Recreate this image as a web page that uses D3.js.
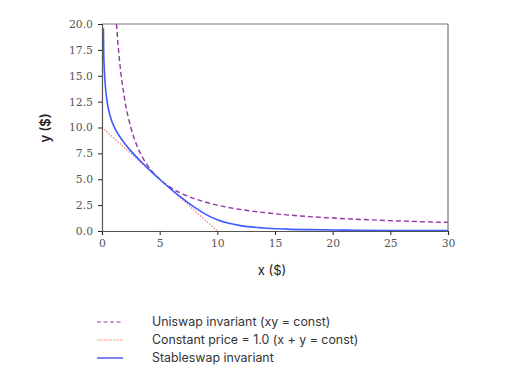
<!DOCTYPE html>
<html><head><meta charset="utf-8">
<script src="https://cdn.jsdelivr.net/npm/d3@7"></script>
<style>body{margin:0;background:#fff;} svg{display:block;}</style>
</head><body>
<svg id="c" width="514" height="380"></svg>
<script>
const xTicks = [0, 5, 10, 15, 20, 25, 30];
const yTicks = [0, 2.5, 5, 7.5, 10, 12.5, 15, 17.5, 20];

const uniX = [1.25, 1.5, 1.75, 2, 2.5, 3, 3.5, 4, 4.5, 5, 6, 7, 8, 9, 10, 12, 14, 16, 18, 20, 22, 25, 28, 30];
const uniY = [20, 16.67, 14.29, 12.5, 10, 8.33, 7.14, 6.25, 5.56, 5, 4.17, 3.57, 3.13, 2.78, 2.5, 2.08, 1.79, 1.56, 1.39, 1.25, 1.14, 1.0, 0.89, 0.83];

const constX = [0, 10];
const constY = [10, 0];

const stableX = [0.12, 0.15, 0.2, 0.3, 0.4, 0.5, 0.6, 0.8, 1, 1.25, 1.5, 2, 2.5, 3, 3.5, 4, 5, 6, 7, 8, 9, 10, 11, 12, 14, 16, 18, 20, 22, 25, 28, 30];
const stableY = [19.6, 17.13, 15.63, 13.87, 12.83, 12.11, 11.57, 10.78, 10.21, 9.64, 9.18, 8.41, 7.74, 7.14, 6.57, 6.03, 5.0, 4.03, 3.12, 2.30, 1.61, 1.09, 0.74, 0.52, 0.29, 0.185, 0.129, 0.095, 0.073, 0.052, 0.040, 0.033];

const legendLabels = ["Uniswap invariant (xy = const)", "Constant price = 1.0 (x + y = const)", "Stableswap invariant"];

const svg = d3.select("#c");
const L = 102, R = 448, T = 24, B = 231;
const x = d3.scaleLinear().domain([0, 30]).range([L, R]);
const y = d3.scaleLinear().domain([0, 20]).range([B, T]);

const serif = "'DejaVu Serif', serif";
const sans = "Inter, 'Noto Sans', sans-serif";

svg.append("line").attr("x1", L).attr("x2", R).attr("y1", T).attr("y2", T).attr("stroke", "#777").attr("stroke-width", 1.2);
svg.append("line").attr("x1", R).attr("x2", R).attr("y1", T).attr("y2", B).attr("stroke", "#777").attr("stroke-width", 1.2);

svg.append("defs").append("clipPath").attr("id", "pc")
  .append("rect").attr("x", L).attr("y", T).attr("width", R - L).attr("height", B - T);

const g = svg.append("g").attr("clip-path", "url(#pc)");
const line = (xs, ys, curve) => d3.line().x((d, i) => x(xs[i])).y((d, i) => y(ys[i])).curve(curve)(xs);

g.append("path").attr("d", line(constX, constY, d3.curveLinear)).attr("fill", "none")
  .attr("stroke", "#ff5a4e").attr("stroke-width", 1.2).attr("stroke-dasharray", "1.2,1.8");
g.append("path").attr("d", line(uniX, uniY, d3.curveMonotoneX)).attr("fill", "none")
  .attr("stroke", "#8d3a9c").attr("stroke-width", 1.4).attr("stroke-dasharray", "5,3");
g.append("path").attr("d", line(stableX, stableY, d3.curveMonotoneX)).attr("fill", "none")
  .attr("stroke", "#3d5cff").attr("stroke-width", 1.6);

const xa = svg.append("g").attr("transform", `translate(0,${B})`)
  .call(d3.axisBottom(x).tickValues(xTicks).tickFormat(d3.format("d")).tickSize(4).tickPadding(4));
const ya = svg.append("g").attr("transform", `translate(${L},0)`)
  .call(d3.axisLeft(y).tickValues(yTicks).tickFormat(d3.format(".1f")).tickSize(4).tickPadding(5));
[xa, ya].forEach(a => {
  a.select(".domain").attr("stroke", "#555").attr("stroke-width", 1.2);
  a.selectAll(".tick line").attr("stroke", "#222");
  a.selectAll("text").attr("font-family", serif).attr("font-size", 10.8).attr("fill", "#555");
});

svg.append("text").attr("x", 272).attr("y", 275).attr("text-anchor", "middle")
  .attr("font-family", sans).attr("font-size", 13).attr("fill", "#222").text("x ($)");
svg.append("text").attr("transform", "translate(50,128) rotate(-90)").attr("text-anchor", "middle")
  .attr("font-family", sans).attr("font-size", 13).attr("font-weight", 600).attr("fill", "#222").text("y ($)");

const lg = svg.append("g");
const styles = [
  {c: "#8d3a9c", d: "4,2.5", w: 1.2},
  {c: "#ff5a4e", d: "1,1.3", w: 1.1},
  {c: "#2233ee", d: null, w: 1.2}
];
legendLabels.forEach((t, i) => {
  const yy = 322 + i * 18;
  const l = lg.append("line").attr("x1", 97).attr("x2", 123).attr("y1", yy).attr("y2", yy)
    .attr("stroke", styles[i].c).attr("stroke-width", styles[i].w);
  if (styles[i].d) l.attr("stroke-dasharray", styles[i].d);
  lg.append("text").attr("x", 152).attr("y", yy + 4).attr("font-family", sans).attr("font-size", 12.4)
    .attr("fill", "#333").text(t);
});
</script>
</body></html>
